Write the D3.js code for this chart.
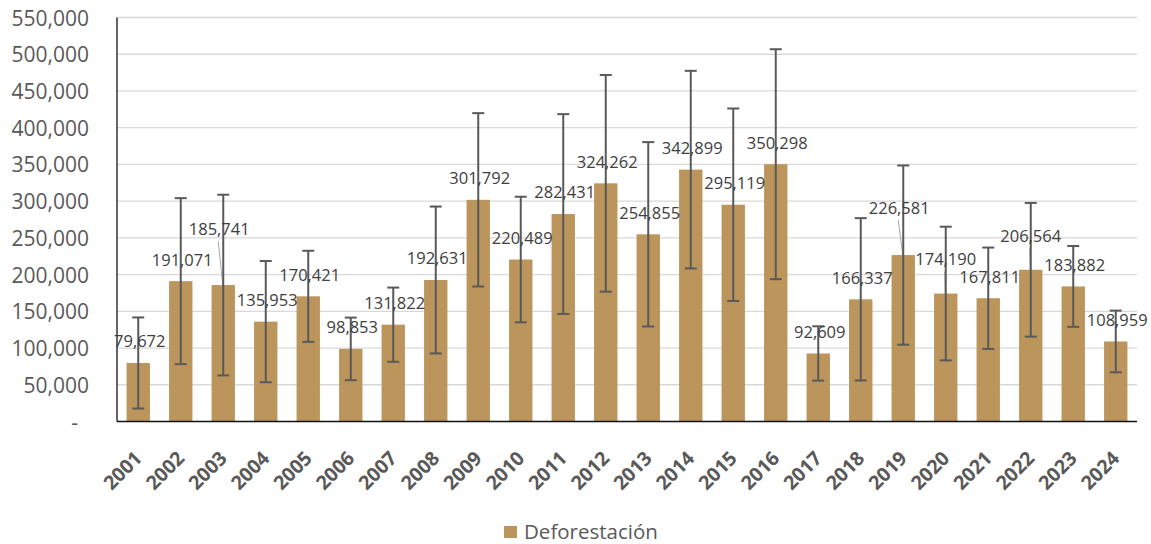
<!DOCTYPE html>
<html>
<head>
<meta charset="utf-8">
<script src="https://cdn.jsdelivr.net/npm/d3@7"></script>
<style>
    body { margin: 0; background: #fff; }
    text { font-family: "Open Sans", sans-serif; }
</style>
</head>
<body>
<script>
// años y deforestación (ha), con su margen de error (+/-)
const years = ["2001", "2002", "2003", "2004", "2005", "2006", "2007", "2008", "2009", "2010", "2011", "2012",
    "2013", "2014", "2015", "2016", "2017", "2018", "2019", "2020", "2021", "2022", "2023", "2024"]
const deforestacion = [79672, 191071, 185741, 135953, 170421, 98853, 131822, 192631, 301792, 220489, 282431, 324262,
    254855, 342899, 295119, 350298, 92609, 166337, 226581, 174190, 167811, 206564, 183882, 108959]
const errorMargin = [62000, 113000, 123000, 82500, 62000, 42600, 50500, 100000, 118000, 85500, 136000, 147500,
    125500, 134500, 131000, 156500, 37000, 110500, 122000, 91000, 69000, 91000, 55000, 42000]
const yTicks = [0, 50000, 100000, 150000, 200000, 250000, 300000, 350000, 400000, 450000, 500000, 550000]
const seriesName = "Deforestación"

window.onload = main;

function main() {
    const data = years.map((y, i) => ({year: y, value: deforestacion[i], err: errorMargin[i]}))
    render_data(data)
}

const svgWidth = 1151;
const svgHeight = 544;

const margin = {top: 17.5, right: 14, bottom: 122.5, left: 117}
const chartWidth = svgWidth - margin.left - margin.right;
const chartHeight = svgHeight - margin.top - margin.bottom;

const barColor = "#BC955C"
const textGrey = "#595959"

// labels that were dragged away from the default spot (dx, dy from bar top)
const labelMoved = {"2003": [-4, -56], "2019": [-4, -47], "2020": [0, -34], "2022": [0, -34]}

function render_data(data) {
    const svg = d3.select("body").append("svg")
        .attr('width', svgWidth)
        .attr('height', svgHeight)

    const g = svg.append('g')
        .attr('transform', `translate(${margin.left}, ${margin.top})`)

    const scaleX = d3.scaleBand()
        .domain(years)
        .range([0, chartWidth])
        .paddingInner(0.45)
        .paddingOuter(0.225)

    const scaleY = d3.scaleLinear()
        .domain([0, 550000])
        .range([chartHeight, 0])

    // gridlines
    g.append("g")
        .selectAll("line")
        .data(yTicks.filter(t => t > 0))
        .join("line")
        .attr("x1", 0)
        .attr("x2", chartWidth)
        .attr("y1", d => scaleY(d))
        .attr("y2", d => scaleY(d))
        .attr("stroke", "#D9D9D9")
        .attr("stroke-width", 1.3)

    // y axis labels
    const fmt = d3.format(",")
    g.append("g")
        .call(d3.axisLeft(scaleY).tickValues(yTicks).tickSize(0).tickPadding(28)
            .tickFormat(d => d === 0 ? "-" : fmt(d)))
        .call(ax => ax.select(".domain").remove())
        .call(ax => ax.selectAll("text")
            .attr("fill", textGrey)
            .style("font-size", "21px")
            .attr("dy", "0.36em")
            .attr("dx", d => d === 0 ? -11 : 0))

    // bars
    const center = d => scaleX(d.year) + scaleX.bandwidth() / 2

    g.append("g")
        .selectAll("rect")
        .data(data)
        .join("rect")
        .attr("x", d => scaleX(d.year))
        .attr("y", d => scaleY(d.value))
        .attr("width", scaleX.bandwidth())
        .attr("height", d => chartHeight - scaleY(d.value))
        .attr("fill", barColor)

    // leader lines for moved labels
    const shift = d => labelMoved[d.year] || [1.5, -21.5]
    g.append("g")
        .selectAll("line")
        .data(data.filter(d => labelMoved[d.year]))
        .join("line")
        .attr("x1", d => center(d) + shift(d)[0] - 1)
        .attr("y1", d => scaleY(d.value) + shift(d)[1] + 12)
        .attr("x2", d => center(d) - 0.5)
        .attr("y2", d => scaleY(d.value))
        .attr("stroke", "#A6A6A6")
        .attr("stroke-width", 1)

    // error bars
    const eb = g.append("g")
        .attr("stroke", "#595959")
        .attr("stroke-width", 2)
        .selectAll("g")
        .data(data)
        .join("g")

    eb.append("line")
        .attr("x1", center).attr("x2", center)
        .attr("y1", d => scaleY(d.value + d.err))
        .attr("y2", d => scaleY(d.value - d.err))
    eb.append("line")
        .attr("x1", d => center(d) - 6).attr("x2", d => center(d) + 6)
        .attr("y1", d => scaleY(d.value + d.err))
        .attr("y2", d => scaleY(d.value + d.err))
    eb.append("line")
        .attr("x1", d => center(d) - 6).attr("x2", d => center(d) + 6)
        .attr("y1", d => scaleY(d.value - d.err))
        .attr("y2", d => scaleY(d.value - d.err))

    // value labels
    g.append("g")
        .selectAll("text")
        .data(data)
        .join("text")
        .attr("x", d => center(d) + shift(d)[0])
        .attr("y", d => scaleY(d.value) + shift(d)[1])
        .attr("dy", "0.36em")
        .attr("text-anchor", "middle")
        .attr("fill", "#404040")
        .style("font-size", "16.5px")
        .text(d => fmt(d.value))

    // axis lines
    g.append("line")
        .attr("x1", 0).attr("x2", 0)
        .attr("y1", 0).attr("y2", chartHeight)
        .attr("stroke", "#333")
        .attr("stroke-width", 1.5)
    g.append("line")
        .attr("x1", 0).attr("x2", chartWidth)
        .attr("y1", chartHeight).attr("y2", chartHeight)
        .attr("stroke", "#111")
        .attr("stroke-width", 1.6)

    // x axis labels, rotated
    g.append("g")
        .selectAll("text")
        .data(data)
        .join("text")
        .attr("transform", d => `translate(${center(d) + 5}, ${chartHeight + 38}) rotate(-45)`)
        .attr("text-anchor", "end")
        .attr("fill", textGrey)
        .style("font-size", "19.5px")
        .style("font-weight", "bold")
        .text(d => d.year)

    // legend
    const legend = svg.append("g")
        .attr("transform", "translate(504, 526)")
    legend.append("rect")
        .attr("width", 13)
        .attr("height", 12)
        .attr("fill", barColor)
    legend.append("text")
        .attr("x", 20)
        .attr("y", 12.5)
        .attr("fill", textGrey)
        .style("font-size", "20.5px")
        .text(seriesName)
}
</script>
</body>
</html>
